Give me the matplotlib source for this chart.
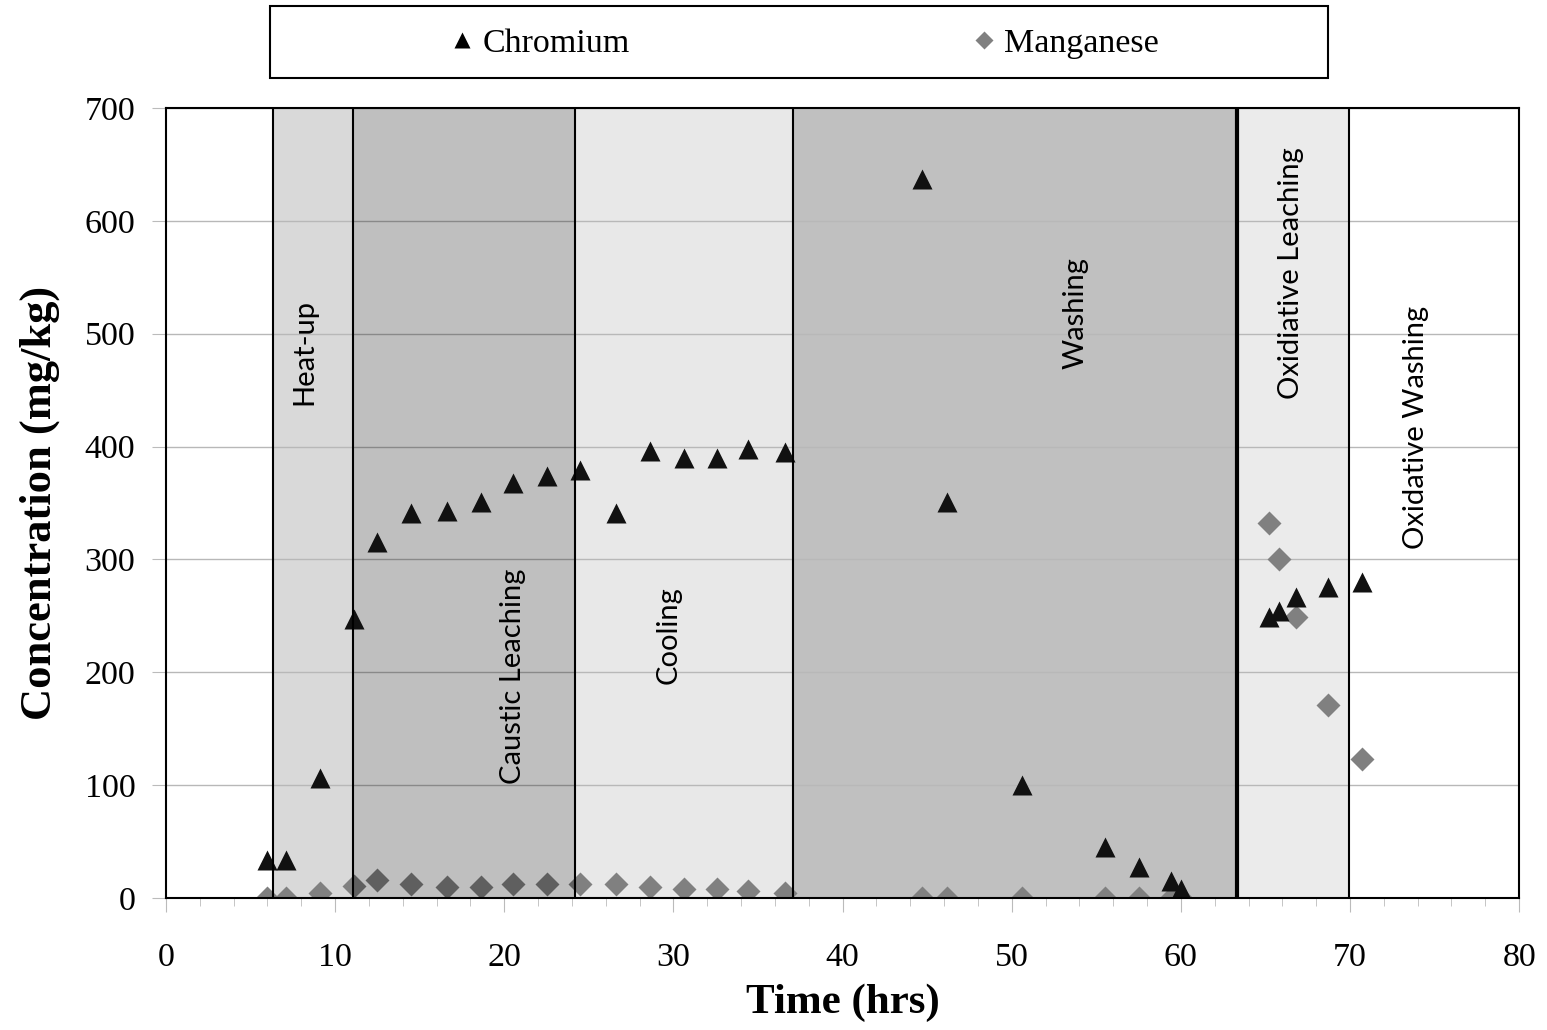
import matplotlib.pyplot as plt
from matplotlib.patches import Rectangle
from matplotlib.ticker import MultipleLocator

# sampling times (hrs) and leachate concentrations (mg/kg)
time_hrs = [6.0, 7.1, 9.1, 11.1, 12.5, 14.5, 16.6, 18.6, 20.5, 22.5, 24.5, 26.6,
            28.6, 30.6, 32.6, 34.4, 36.6, 44.7, 46.2, 50.6, 55.5, 57.5, 59.4, 60.0,
            65.2, 65.8, 66.8, 68.7, 70.7]
chromium = [34, 34, 106, 247, 315, 341, 343, 351, 368, 374, 379, 341,
            396, 390, 390, 398, 395, 637, 351, 100, 45, 27, 15, 8,
            249, 254, 267, 276, 280]
manganese = [0, 0, 4, 11, 16, 12, 10, 10, 12, 12, 12, 12,
             10, 8, 8, 6, 4, 0, 0, 0, 0, 0, 0, 0,
             332, 300, 249, 171, 123]

# process stages
stage_names = ['Heat-up', 'Caustic Leaching', 'Cooling', 'Washing',
               'Oxidiative Leaching', 'Oxidative Washing']
stage_edges = [6.33, 11.06, 24.19, 37.08, 63.33, 69.96, 80]
stage_fill = ['#d9d9d9', '#c0c0c0', '#e8e8e8', '#c0c0c0', '#ebebeb', 'white']
label_pos = [(8.2, 484), (20.5, 196), (29.7, 233), (53.75, 518), (66.5, 554), (73.9, 417)]

serif = 'Liberation Serif'

fig = plt.figure(figsize=(15.47, 10.30), dpi=100)
ax = fig.add_axes([0.1073, 0.1282, 0.8747, 0.7669])

for i in range(len(stage_names)):
    if i == 1:
        # caustic leaching shading sits over the Mn markers (darkens them)
        ax.axvspan(stage_edges[i], stage_edges[i + 1], color='black', alpha=0.25,
                   zorder=3.5, lw=0)
    else:
        ax.axvspan(stage_edges[i], stage_edges[i + 1], color=stage_fill[i], zorder=0, lw=0)
for i, xe in enumerate(stage_edges[:-1]):
    lw = 3 if i == 4 else 1.5
    ax.axvline(xe, color='black', lw=lw, zorder=4.5)
for name, (tx, ty) in zip(stage_names, label_pos):
    ax.text(tx, ty, name, rotation=90, ha='center', va='center',
            fontsize=21, family='Lato', zorder=6)

ax.yaxis.grid(True, color='#b8b8b8', lw=1, zorder=0.5)
ax.set_axisbelow(True)

ax.plot(time_hrs, manganese, ls='none', marker='D', ms=12, color='#808080',
        mec='none', zorder=3, label='Manganese')
ax.plot(time_hrs, chromium, ls='none', marker='^', ms=15, color='#111111',
        mec='none', zorder=4, label='Chromium')

ax.set_xlim(0, 80)
ax.set_ylim(0, 700)
ax.xaxis.set_major_locator(MultipleLocator(10))
ax.xaxis.set_minor_locator(MultipleLocator(2))
ax.yaxis.set_major_locator(MultipleLocator(100))
ax.tick_params(axis='both', which='both', direction='out', color='#bbbbbb',
               labelsize=24.5)
ax.tick_params(axis='x', which='major', length=10, pad=22)
ax.tick_params(axis='x', which='minor', length=6)
ax.tick_params(axis='y', which='major', length=10, pad=12)
for lab in ax.get_xticklabels() + ax.get_yticklabels():
    lab.set_family(serif)
for sp in ax.spines.values():
    sp.set_linewidth(1.5)
    sp.set_zorder(5)

ax.set_xlabel('Time (hrs)', fontsize=31, fontweight='bold', family=serif, labelpad=8)
ax.set_ylabel('Concentration (mg/kg)', fontsize=32, fontweight='bold', family=serif, labelpad=18)

# legend box on top
fig.patches.append(Rectangle((0.1745, 0.9243), 0.684, 0.0699, transform=fig.transFigure,
                             fill=False, ec='black', lw=1.5))
h_cr, = ax.plot([], [], ls='none', marker='^', ms=12, color='black', mec='none')
h_mn, = ax.plot([], [], ls='none', marker='D', ms=9, color='#808080', mec='none')
fig.legend([h_cr, h_mn], ['Chromium', 'Manganese'], ncol=2, frameon=False,
           loc='center', bbox_to_anchor=(0.5197, 0.958), columnspacing=10,
           handlelength=0.8, handletextpad=0.2, prop={'family': serif, 'size': 24.5})

fig.savefig('out.png', dpi=100)
